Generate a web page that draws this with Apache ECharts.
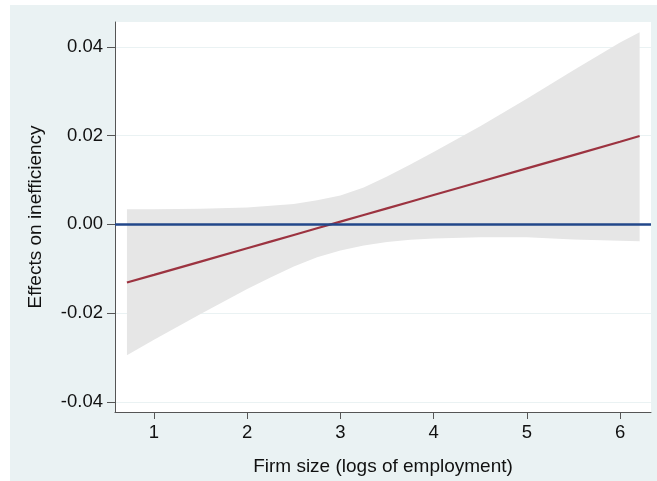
<!DOCTYPE html>
<html>
<head>
<meta charset="utf-8">
<script src="https://cdn.jsdelivr.net/npm/echarts@6/dist/echarts.min.js"></script>
<style>
  html, body { margin: 0; padding: 0; background: #ffffff; }
  #chart { position: absolute; left: 10px; top: 5px; width: 647px; height: 476px; background: #EAF2F3; }
</style>
</head>
<body>
<div id="chart"></div>
<script>
// Linear prediction of the effect on inefficiency by firm size, with its confidence band
const firmSize = [0.71, 1.0, 1.5, 2.0, 2.25, 2.5, 2.75, 3.0, 3.25, 3.5, 3.75, 4.0, 4.5, 5.0, 5.5, 6.0, 6.21];
const effect   = [-0.0131, -0.0114, -0.0084, -0.0054, -0.0039, -0.0024, -0.0009, 0.0006, 0.0021, 0.0036, 0.0051, 0.0066, 0.0096, 0.0126, 0.0156, 0.0186, 0.0199];
const ciUpper  = [0.0034, 0.0034, 0.0035, 0.0038, 0.0042, 0.0046, 0.0054, 0.0065, 0.0083, 0.0108, 0.0135, 0.0163, 0.0221, 0.0283, 0.0347, 0.0410, 0.0433];
const ciLower  = [-0.0295, -0.0260, -0.0202, -0.0146, -0.0120, -0.0095, -0.0074, -0.0059, -0.0048, -0.0040, -0.0035, -0.0032, -0.0029, -0.0029, -0.0034, -0.0037, -0.0038];

const xTicks = [1, 2, 3, 4, 5, 6];
const yTicks = [-0.04, -0.02, 0, 0.02, 0.04];
const xRange = [0.582, 6.332];
const yRange = [-0.0423, 0.0456];
const referenceLevel = 0;

const FONT = '"Liberation Sans", Arial, sans-serif';
const axisColor = '#555555';
const textColor = '#111111';

const chart = echarts.init(document.getElementById('chart'), null, { renderer: 'canvas' });

chart.setOption({
  animation: false,
  backgroundColor: '#EAF2F3',
  grid: {
    left: 105, top: 17, right: 6, bottom: 69,
    show: true, backgroundColor: '#ffffff', borderWidth: 0
  },
  xAxis: {
    type: 'value',
    min: xRange[0], max: xRange[1],
    name: 'Firm size (logs of employment)',
    nameLocation: 'middle',
    nameGap: 45,
    nameTextStyle: { fontFamily: FONT, fontSize: 19, color: textColor },
    axisLine: { show: true, onZero: false, lineStyle: { color: axisColor, width: 1 } },
    axisTick: { show: true, length: 7, customValues: xTicks, lineStyle: { color: axisColor } },
    axisLabel: { customValues: xTicks, margin: 11, fontFamily: FONT, fontSize: 18.5, color: textColor },
    splitLine: { show: false }
  },
  yAxis: {
    type: 'value',
    min: yRange[0], max: yRange[1],
    name: 'Effects on inefficiency',
    nameLocation: 'middle',
    nameGap: 70,
    nameTextStyle: { fontFamily: FONT, fontSize: 19, color: textColor },
    axisLine: { show: true, onZero: false, lineStyle: { color: axisColor, width: 1 } },
    axisTick: { show: true, length: 8, customValues: yTicks, lineStyle: { color: axisColor } },
    axisLabel: {
      customValues: yTicks, margin: 12, fontFamily: FONT, fontSize: 18.5, color: textColor,
      formatter: v => v.toFixed(2)
    },
    splitLine: { show: true, lineStyle: { color: '#EAF2F3', width: 1 } }
  },
  series: [
    {
      // confidence band as one filled polygon
      type: 'custom',
      silent: true,
      z: 1,
      data: firmSize.map((x, i) => [x, ciLower[i], ciUpper[i]]),
      encode: { x: 0, y: [1, 2] },
      renderItem: function (params, api) {
        if (params.dataIndex !== 0) return null;
        const pts = [];
        for (let i = 0; i < firmSize.length; i++) pts.push(api.coord([firmSize[i], ciUpper[i]]));
        for (let i = firmSize.length - 1; i >= 0; i--) pts.push(api.coord([firmSize[i], ciLower[i]]));
        return { type: 'polygon', shape: { points: pts }, style: { fill: '#E6E6E6', stroke: null } };
      }
    },
    {
      // horizontal reference line at zero
      type: 'line',
      data: [],
      z: 2,
      markLine: {
        silent: true,
        symbol: ['none', 'none'],
        label: { show: false },
        lineStyle: { type: 'solid', color: '#22478A', width: 2.5 },
        data: [{ yAxis: referenceLevel }]
      }
    },
    {
      type: 'line',
      z: 3,
      symbol: 'none',
      silent: true,
      data: firmSize.map((x, i) => [x, effect[i]]),
      lineStyle: { color: '#9C3340', width: 2.2 }
    }
  ]
});
</script>
</body>
</html>
